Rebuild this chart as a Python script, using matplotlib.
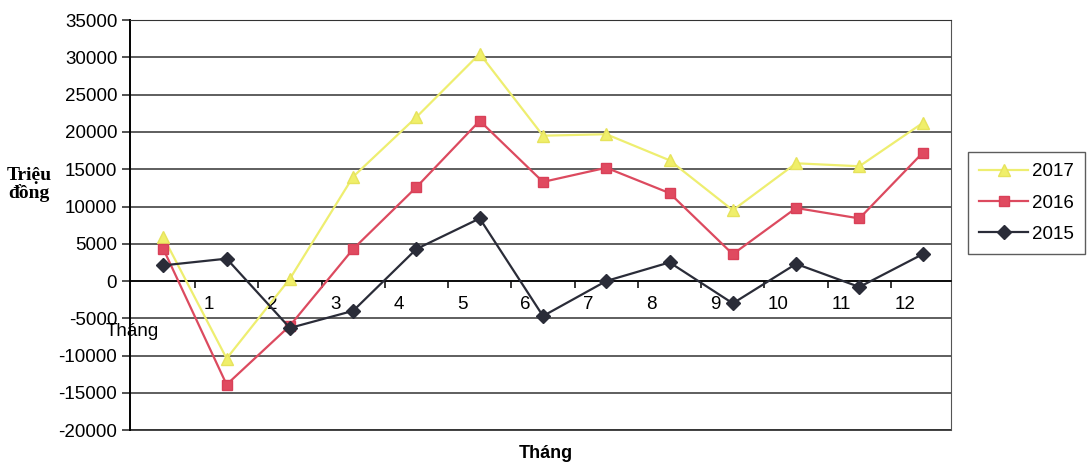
import numpy as np
import matplotlib
matplotlib.use("Agg")
import matplotlib.pyplot as plt

# 13 diem du lieu, nhan truc hoanh 1..12
thang = ["1", "2", "3", "4", "5", "6", "7", "8", "9", "10", "11", "12"]
nam = ["2017", "2016", "2015"]
y2017 = [5900, -10400, 300, 14000, 22000, 30500, 19500, 19700, 16200, 9500, 15800, 15400, 21200]
y2016 = [4300, -13900, -6000, 4300, 12600, 21500, 13300, 15200, 11800, 3600, 9800, 8400, 17200]
y2015 = [2100, 3000, -6300, -4000, 4300, 8400, -4700, 0, 2500, -3000, 2300, -800, 3600]

plt.rcParams['font.family'] = ['Liberation Sans', 'DejaVu Sans']
plt.rcParams['axes.unicode_minus'] = False

fig = plt.figure(figsize=(10.87, 4.70), dpi=100)
ax = fig.add_axes([0.12, 0.085, 0.755, 0.872])

x = np.arange(len(y2015))
ax.plot(x, y2017, color='#eeee70', lw=1.6, marker='^', ms=9, mfc='#f0ef6a', mec='#e6e35c', label=nam[0], zorder=3)
ax.plot(x, y2016, color='#dc4a5f', lw=1.6, marker='s', ms=7.5, mfc='#e04a60', mec='#d94058', label=nam[1], zorder=4)
ax.plot(x, y2015, color='#2a2c38', lw=1.6, marker='D', ms=7, mfc='#2a2c38', mec='#2a2c38', label=nam[2], zorder=5)

ax.set_xlim(-0.52, 12.45)
ax.set_ylim(-20000, 35000)
ax.set_yticks(np.arange(-20000, 35001, 5000))
ax.yaxis.grid(True, color='#333333', lw=1.1)
ax.set_axisbelow(True)
ax.axhline(-20000, color='#333333', lw=1.3, clip_on=False)
ax.tick_params(axis='y', labelsize=13.5, length=6, width=1.1, color='#222222')

# truc hoanh cat tai 0
ax.spines['bottom'].set_position(('data', 0))
ax.spines['bottom'].set_linewidth(1.2)
ax.spines['left'].set_linewidth(1.4)
ax.spines['top'].set_color('#333333')
ax.spines['right'].set_color('#555555')
ax.set_xticks(np.arange(0.5, 12, 1))
ax.set_xticks(np.arange(12) + 0.72, minor=True)
ax.set_xticklabels([])
ax.set_xticklabels(thang, minor=True)
ax.tick_params(axis='x', which='major', length=5, width=1.1, direction='out')
ax.tick_params(axis='x', which='minor', length=0, pad=11, labelsize=13.5)

fig.text(0.097, 1 - 332 / 470, "Tháng", fontsize=13.5, ha='left', va='center')
fig.text(0.502, 1 - 453 / 470, "Tháng", fontsize=13, fontweight='bold', ha='center', va='center')
fig.text(0.027, 1 - 184 / 470, "Triệu\nđồng", family=['Liberation Serif', 'DejaVu Serif'],
         fontsize=14, fontweight='bold', ha='center', va='center', linespacing=1.0)

leg = fig.legend(loc='upper left', bbox_to_anchor=(968 / 1087, 1 - 152 / 470), fontsize=13.5,
                 frameon=True, fancybox=False, edgecolor='#333333', handlelength=2.6,
                 handletextpad=0.2, labelspacing=0.75, borderpad=0.6, borderaxespad=0)
leg.get_frame().set_linewidth(1.0)

fig.savefig("out.png", dpi=100)
